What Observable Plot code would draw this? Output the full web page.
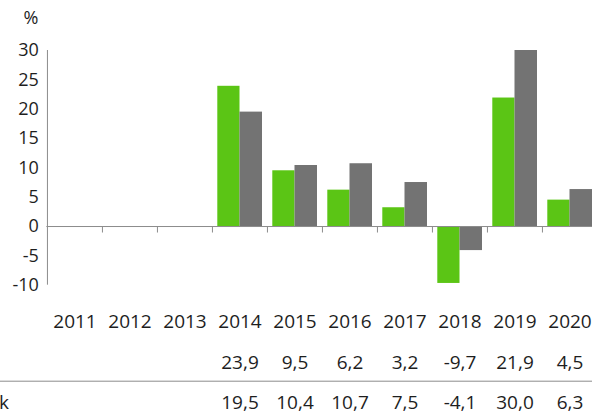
<!DOCTYPE html>
<html><head><meta charset="utf-8">
<script src="https://cdn.jsdelivr.net/npm/d3@7"></script>
<script src="https://cdn.jsdelivr.net/npm/@observablehq/plot@0.6"></script>
<style>body{margin:0;background:#fff;overflow:hidden}</style>
</head><body><div id="chart"></div>
<script>
const years = ["2011","2012","2013","2014","2015","2016","2017","2018","2019","2020"];
const fundValues = [null, null, null, 23.9, 9.5, 6.2, 3.2, -9.7, 21.9, 4.5];
const benchValues = [null, null, null, 19.5, 10.4, 10.7, 7.5, -4.1, 30.0, 6.3];
const rowLabels = ["Fond", "Benchmark"];
const yTicks = [-10, -5, 0, 5, 10, 15, 20, 25, 30];
const unitLabel = "%";
const colors = ["#5bc515", "#737373"];

const fundRows = years.map((y, i) => ({year: y, value: fundValues[i]})).filter(d => d.value != null);
const benchRows = years.map((y, i) => ({year: y, value: benchValues[i]})).filter(d => d.value != null);
const fmt = v => d3.format(".1f")(v).replace(".", ",").replace("\u2212", "-");
const half = 27.55;
const axisGray = "#8c8c8c";
const ink = "#1e1e1e";
const rowFont = 19;

const chart = Plot.plot({
  width: 592, height: 414,
  marginTop: 50, marginBottom: 129.3, marginLeft: 46.4, marginRight: 0,
  style: {fontSize: "18px", fontFamily: "'Open Sans'", color: ink, background: "#fff", overflow: "hidden"},
  x: {domain: years, range: [46.4, 597.4], padding: 0, axis: null},
  y: {domain: [-10, 30], ticks: yTicks, tickSize: 0, tickPadding: 8, tickFormat: d => String(d), label: null},
  marks: [
    Plot.barY(fundRows, {x: "year", y: "value", fill: colors[0], insetLeft: 5.3, insetRight: 27.5}),
    Plot.barY(benchRows, {x: "year", y: "value", fill: colors[1], insetLeft: 27.5, insetRight: 5}),
    Plot.ruleY([0], {stroke: axisGray}),
    Plot.ruleX(years.slice(0, 1), {x: d => d, dx: -half, stroke: axisGray}),
    Plot.ruleX(years.slice(1), {x: d => d, dx: -half, y1: 0, y2: 0, insetBottom: -6.5, stroke: axisGray}),
    Plot.text([unitLabel], {frameAnchor: "top-left", lineAnchor: "middle", dx: -8.4, dy: -32, textAnchor: "end", fontSize: 18, fill: ink}),
    Plot.text(years, {x: d => d, frameAnchor: "bottom", lineAnchor: "middle", dy: 36.8, fontSize: rowFont, fill: ink}),
    Plot.text(fundRows, {x: "year", text: d => fmt(d.value), frameAnchor: "bottom", lineAnchor: "middle", dy: 77.8, fontSize: rowFont, fill: ink}),
    Plot.ruleY([-10], {dy: 96, insetLeft: -46.4, stroke: axisGray}),
    Plot.text(benchRows, {x: "year", text: d => fmt(d.value), frameAnchor: "bottom", lineAnchor: "middle", dy: 117.8, fontSize: rowFont, fill: ink}),
    Plot.text([rowLabels[1]], {frameAnchor: "bottom-left", lineAnchor: "middle", dx: -38, dy: 117.8, textAnchor: "end", fontSize: rowFont, fill: ink})
  ]
});
document.getElementById("chart").appendChild(chart);
</script>
</body></html>
